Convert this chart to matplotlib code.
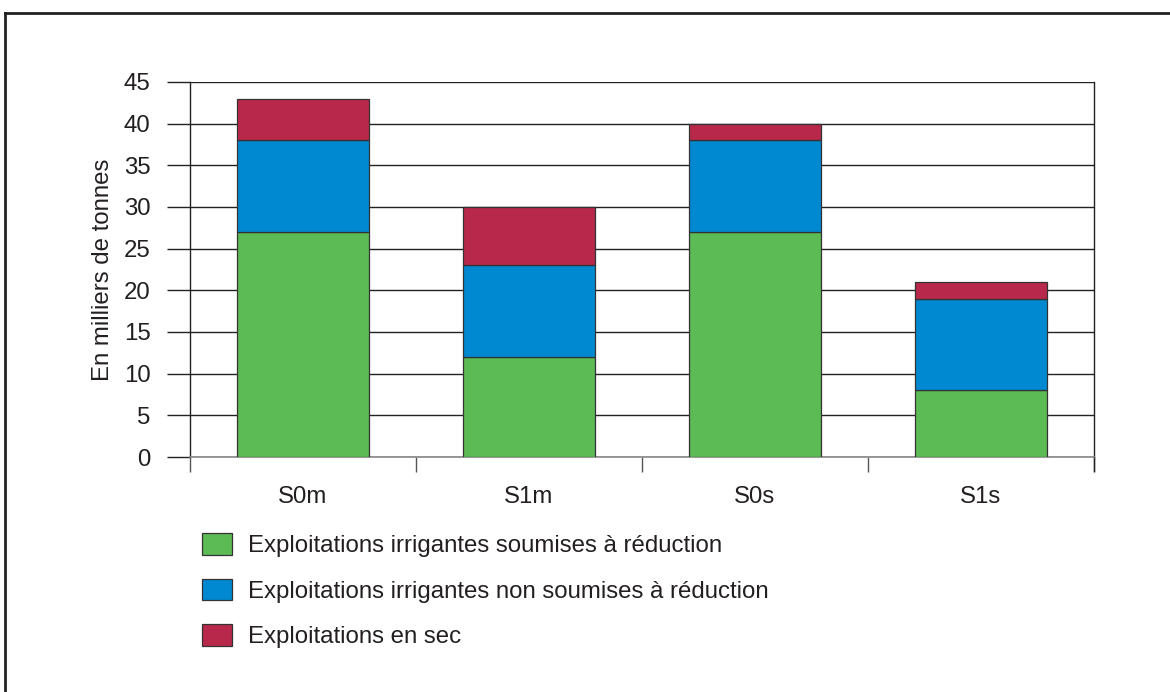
import matplotlib
matplotlib.use("Agg")
import matplotlib.pyplot as plt
from matplotlib.lines import Line2D
import numpy as np

plt.rcParams['font.family'] = ['Liberation Sans', 'DejaVu Sans']

categories = ["S0m", "S1m", "S0s", "S1s"]
soumises = [27, 12, 27, 8]
non_soumises = [11, 11, 11, 11]
en_sec = [5, 7, 2, 2]
series_labels = ["Exploitations irrigantes soumises à réduction",
                 "Exploitations irrigantes non soumises à réduction",
                 "Exploitations en sec"]
colors = ["#5DBB55", "#0088D1", "#B8284B"]
yticks = [0, 5, 10, 15, 20, 25, 30, 35, 40, 45]

FS = 17.3
TC = "#231F20"

fig = plt.figure(figsize=(11.7, 6.92), dpi=100)
ax = fig.add_axes([190/1170, 1-457/692, (1094-190)/1170, (457-82)/692])

x = np.arange(len(categories))
w = 0.58
bottoms = np.zeros(len(categories))
handles = []
for vals, c, lab in zip([soumises, non_soumises, en_sec], colors, series_labels):
    b = ax.bar(x, vals, w, bottom=bottoms, color=c, edgecolor="#333333",
               linewidth=0.9, zorder=3, label=lab)
    handles.append(b)
    bottoms += np.array(vals)

ax.set_xlim(-0.5, len(categories) - 0.5)
ax.set_ylim(0, 45)
ax.set_yticks(yticks)
ax.yaxis.grid(True, color="#222222", linewidth=1.0, zorder=0)
ax.set_axisbelow(True)

ax.set_xticks(np.arange(-0.5, len(categories)), minor=False)
ax.set_xticklabels([])
ax.set_xticks(x, minor=True)
ax.set_xticklabels(categories, minor=True)
ax.tick_params(axis='x', which='major', length=10.5, width=1, color="#555555", direction='out')
ax.tick_params(axis='x', which='minor', length=0, pad=21, labelsize=FS, labelcolor=TC)
ax.tick_params(axis='y', length=16.5, width=1, color="#222222", pad=12, labelsize=FS, labelcolor=TC)

for s in ['left', 'right']:
    ax.spines[s].set_color("#222222")
    ax.spines[s].set_linewidth(1)
ax.spines['top'].set_visible(False)
ax.spines['bottom'].set_color("#888888")
ax.spines['bottom'].set_linewidth(1.2)

# extend right spine downward like a tick
ax.plot([1, 1], [0, -14/375], transform=ax.transAxes, color="#222222", lw=1, clip_on=False)

ax.set_ylabel("En milliers de tonnes", fontsize=FS, color=TC, labelpad=7)

leg = fig.legend(handles=handles, labels=series_labels, loc='upper left',
                 bbox_to_anchor=(202/1170, 1-533/692), frameon=False,
                 fontsize=FS, handlelength=1.25, handleheight=1.0,
                 labelspacing=0.9, handletextpad=0.67, borderpad=0, borderaxespad=0)
for t in leg.get_texts():
    t.set_color(TC)

# outer frame
fig.add_artist(Line2D([5/1170, 1.0], [1-13/692, 1-13/692], transform=fig.transFigure, color="#222222", lw=2))
fig.add_artist(Line2D([5/1170, 5/1170], [0, 1-13/692], transform=fig.transFigure, color="#222222", lw=2))

fig.savefig("out.png", dpi=100)
